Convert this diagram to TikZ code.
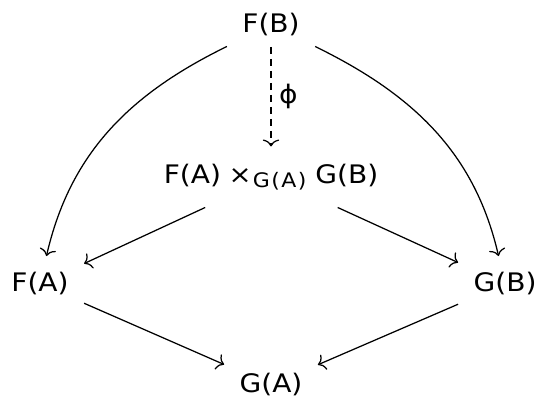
\documentclass[tikz,border=0pt]{standalone}
\usepackage{fontspec}
\setmainfont{DejaVu Sans}[FakeStretch=1.1]
\usetikzlibrary{arrows.meta}
\begin{document}
\begin{tikzpicture}[x=0.4pt,y=0.4pt,
  font=\fontsize{10.2}{12}\selectfont,
  obj/.style={inner xsep=6pt, inner ysep=4pt},
  arr/.style={-{Computer Modern Rightarrow[width=6.6pt,length=2.8pt]}, line width=0.5pt}]
\useasboundingbox (0,0) rectangle (550,410);
\node[obj] (FB) at (271,385) {F(B)};
\node[obj, minimum height=24pt] (P) at (271,233)
  {F(A)\hspace{3pt}{\fontsize{10}{12}\selectfont ×}\hspace{0.5pt}\raisebox{-1.6pt}{\fontsize{8}{9}\selectfont G\kern0.6pt(\kern0.6pt A\kern0.6pt)}\hspace{3.5pt}G(B)};
\node[obj] (FA) at (40,126) {F(A)};
\node[obj] (GB) at (505,126) {G(B)};
\node[obj] (GA) at (271,25) {G(A)};
\draw[arr, dash pattern=on 2.8pt off 2pt] (FB) -- node[right, inner sep=3pt] {ϕ} (P);
\draw[arr] (P) -- (FA);
\draw[arr] (P) -- (GB);
\draw[arr] (FA) -- (GA);
\draw[arr] (GB) -- (GA);
\draw[arr, shorten >=2.5pt] (FB) to[out=206,in=77] (FA);
\draw[arr, shorten >=2.5pt] (FB) to[out=-26,in=103] (GB);
\end{tikzpicture}
\end{document}
